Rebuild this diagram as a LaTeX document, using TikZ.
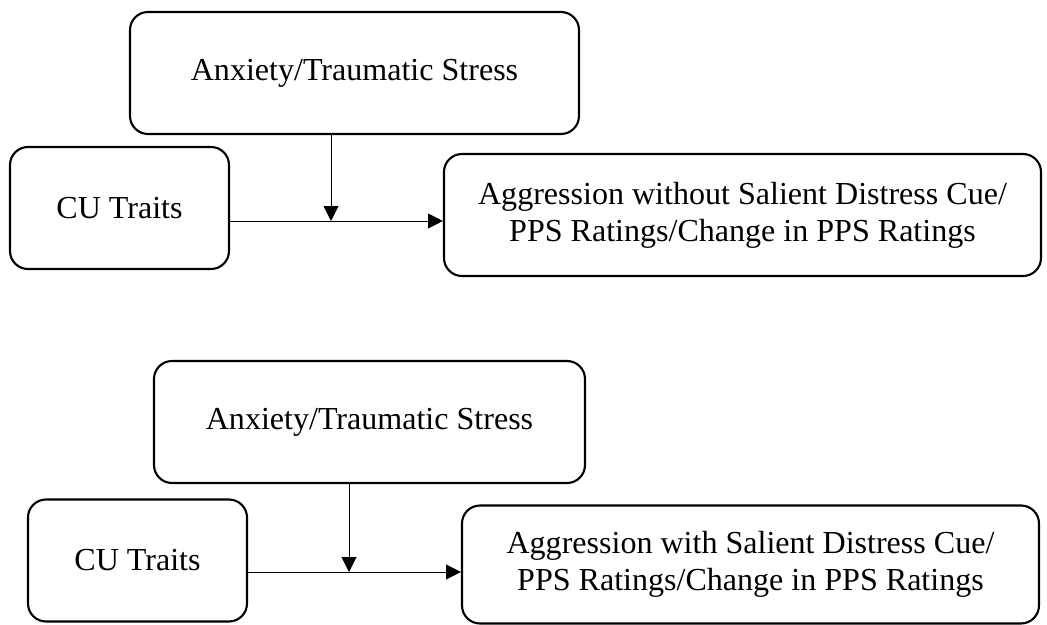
\documentclass[tikz,border=0pt]{standalone}
\usepackage{fontspec}
\setmainfont{Liberation Serif}
\usepackage{tikz}
\usetikzlibrary{arrows.meta}

\begin{document}
\begin{tikzpicture}[
  box/.style={draw, line width=1.5pt, rounded corners=0.45cm, minimum height=3.05cm, align=center, inner sep=0pt, font=\fontsize{22.8}{26.4}\selectfont},
  wide/.style={box},
  arr/.style={-{Triangle[length=0.37cm, width=0.37cm]}, line width=0.7pt}
]
\useasboundingbox (0,0) rectangle (26.175,-15.625);
% without distress cue
\node[box, minimum width=11.225cm] at (8.8625,-1.825) (anxA) {Anxiety/Traumatic Stress};
\node[box, minimum width=5.475cm]  at (2.9875,-5.2)   (cuA)  {CU Traits};
\node[wide, minimum width=14.925cm] at (18.5625,-5.375) (aggA) {Aggression without Salient Distress Cue/\\PPS Ratings/Change in PPS Ratings};
\coordinate (modA) at (8.275,-5.525);

\draw[arr] (cuA.east |- modA) -- (aggA.west |- modA);
\draw[arr] (anxA.south -| modA) -- (modA);

% with distress cue
\node[box, minimum width=10.775cm] at (9.2375,-10.55)  (anxB) {Anxiety/Traumatic Stress};
\node[box, minimum width=5.475cm]  at (3.4375,-14.0125) (cuB)  {CU Traits};
\node[wide, minimum width=14.425cm, minimum height=2.95cm] at (18.7625,-14.1125) (aggB) {Aggression with Salient Distress Cue/\\PPS Ratings/Change in PPS Ratings};
\coordinate (modB) at (8.725,-14.3);

\draw[arr] (cuB.east |- modB) -- (aggB.west |- modB);
\draw[arr] (anxB.south -| modB) -- (modB);
\end{tikzpicture}
\end{document}
